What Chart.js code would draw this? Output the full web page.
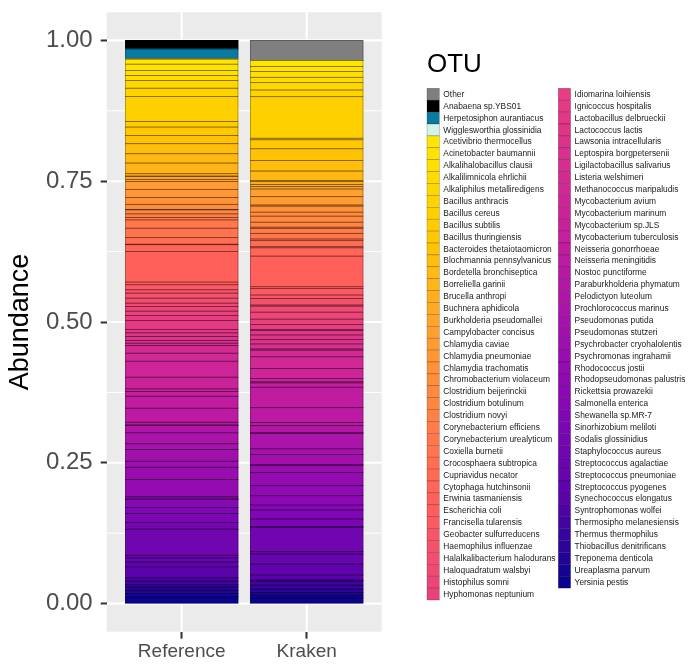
<!DOCTYPE html>
<html>
<head>
<meta charset="utf-8">
<script src="https://cdn.jsdelivr.net/npm/chart.js@4.4.1/dist/chart.umd.min.js"></script>
<style>
  html, body { margin: 0; padding: 0; background: #ffffff; }
  canvas { display: block; }
</style>
</head>
<body>
<canvas id="otu-chart" width="689" height="668"></canvas>
<script>
// samples on the x axis
var samples = ["Reference", "Kraken"];
var yTicks = [0, 0.25, 0.5, 0.75, 1];

// OTUs in legend order (first one sits on top of the stack)
var otus = [
    "Other", "Anabaena sp.YBS01", "Herpetosiphon aurantiacus", "Wigglesworthia glossinidia",
    "Acetivibrio thermocellus", "Acinetobacter baumannii", "Alkalihalobacillus clausii",
    "Alkalilimnicola ehrlichii", "Alkaliphilus metalliredigens", "Bacillus anthracis",
    "Bacillus cereus", "Bacillus subtilis", "Bacillus thuringiensis", "Bacteroides thetaiotaomicron",
    "Blochmannia pennsylvanicus", "Bordetella bronchiseptica", "Borreliella garinii",
    "Brucella anthropi", "Buchnera aphidicola", "Burkholderia pseudomallei", "Campylobacter concisus",
    "Chlamydia caviae", "Chlamydia pneumoniae", "Chlamydia trachomatis", "Chromobacterium violaceum",
    "Clostridium beijerinckii", "Clostridium botulinum", "Clostridium novyi",
    "Corynebacterium efficiens", "Corynebacterium urealyticum", "Coxiella burnetii",
    "Crocosphaera subtropica", "Cupriavidus necator", "Cytophaga hutchinsonii",
    "Erwinia tasmaniensis", "Escherichia coli", "Francisella tularensis", "Geobacter sulfurreducens",
    "Haemophilus influenzae", "Halalkalibacterium halodurans", "Haloquadratum walsbyi",
    "Histophilus somni", "Hyphomonas neptunium",
    "Idiomarina loihiensis", "Ignicoccus hospitalis", "Lactobacillus delbrueckii",
    "Lactococcus lactis", "Lawsonia intracellularis", "Leptospira borgpetersenii",
    "Ligilactobacillus salivarius", "Listeria welshimeri", "Methanococcus maripaludis",
    "Mycobacterium avium", "Mycobacterium marinum", "Mycobacterium sp.JLS",
    "Mycobacterium tuberculosis", "Neisseria gonorrhoeae", "Neisseria meningitidis",
    "Nostoc punctiforme", "Paraburkholderia phymatum", "Pelodictyon luteolum",
    "Prochlorococcus marinus", "Pseudomonas putida", "Pseudomonas stutzeri",
    "Psychrobacter cryohalolentis", "Psychromonas ingrahamii", "Rhodococcus jostii",
    "Rhodopseudomonas palustris", "Rickettsia prowazekii", "Salmonella enterica",
    "Shewanella sp.MR-7", "Sinorhizobium meliloti", "Sodalis glossinidius",
    "Staphylococcus aureus", "Streptococcus agalactiae", "Streptococcus pneumoniae",
    "Streptococcus pyogenes", "Synechococcus elongatus", "Syntrophomonas wolfei",
    "Thermosipho melanesiensis", "Thermus thermophilus", "Thiobacillus denitrificans",
    "Treponema denticola", "Ureaplasma parvum", "Yersinia pestis"
];

// abundances, same order as otus
var referenceValues = [
    0, 0.0151, 0.0165, 0.0015,
    0.0089, 0.0114, 0.0089, 0.0089, 0.0135, 0.0149, 0.0440, 0.0101, 0.0147, 0.0149,
    0.0178, 0.0165, 0.0190, 0.0041, 0.0010, 0.0048, 0.0041, 0.0137, 0.0147, 0.0119,
    0.0089, 0.0010, 0.0071, 0.0064, 0.0043, 0.0147, 0.0165, 0.0119, 0.0010, 0.0119,
    0.0544, 0.0048, 0.0089, 0.0059, 0.0089, 0.0089, 0.0060, 0.0082, 0.0078, 0.0089,
    0.0160, 0.0059, 0.0066, 0.0071, 0.0046, 0.0043, 0.0135, 0.0142, 0.0284, 0.0208,
    0.0048, 0.0082, 0.0213, 0.0249, 0.0048, 0.0010, 0.0130, 0.0195, 0.0101, 0.0208,
    0.0107, 0.0219, 0.0307, 0.0036, 0.0010, 0.0142, 0.0107, 0.0160, 0.0119, 0.0462,
    0.0048, 0.0071, 0.0089, 0.0195, 0.0059, 0.0059, 0.0043, 0.0059, 0.0059, 0.0060,
    0.0117
];
var krakenValues = [
    0.0359, 0, 0, 0,
    0.0107, 0.0089, 0.0100, 0.0096, 0.0130, 0.0119, 0.0737, 0.0028, 0.0160, 0.0208,
    0.0187, 0.0169, 0.0020, 0.0048, 0.0041, 0.0041, 0.0137, 0.0147, 0.0020, 0.0107,
    0.0071, 0.0107, 0.0089, 0.0020, 0.0089, 0.0101, 0.0030, 0.0107, 0.0020, 0.0147,
    0.0544, 0.0030, 0.0117, 0.0060, 0.0117, 0.0020, 0.0107, 0.0124, 0.0096, 0.0089,
    0.0020, 0.0076, 0.0084, 0.0076, 0.0089, 0.0020, 0.0119, 0.0206, 0.0178, 0.0060,
    0.0020, 0.0076, 0.0364, 0.0261, 0.0059, 0.0119, 0.0020, 0.0272, 0.0101, 0.0178,
    0.0020, 0.0119, 0.0236, 0.0178, 0.0165, 0.0089, 0.0160, 0.0131, 0.0020, 0.0423,
    0.0048, 0.0178, 0.0195, 0.0089, 0.0020, 0.0071, 0.0071, 0.0059, 0.0048, 0.0048,
    0.0100
];

// colours: four fixed ones, then a yellow -> navy ramp for the species
var fixedColors = ["#7f7f7f", "#000000", "#0a7aa1", "#d5f2e6"];
var rampStops = [
    [0.00, "#ffe600"], [0.10, "#ffc800"], [0.20, "#ffa02e"], [0.29, "#ff7f45"],
    [0.39, "#ff5c5e"], [0.49, "#e63c82"], [0.64, "#c41d9f"], [0.81, "#8807b6"],
    [0.91, "#5c03ab"], [1.00, "#0a0390"]
];

function hexToRgb(h) {
    return [parseInt(h.substr(1, 2), 16), parseInt(h.substr(3, 2), 16), parseInt(h.substr(5, 2), 16)];
}
function ramp(t) {
    for (var i = 1; i < rampStops.length; i++) {
        if (t <= rampStops[i][0]) {
            var a = rampStops[i - 1], b = rampStops[i];
            var f = (t - a[0]) / (b[0] - a[0]);
            var ca = hexToRgb(a[1]), cb = hexToRgb(b[1]);
            var c = ca.map(function (v, k) { return Math.round(v + (cb[k] - v) * f); });
            return "rgb(" + c.join(",") + ")";
        }
    }
    return rampStops[rampStops.length - 1][1];
}

var nSpecies = otus.length - fixedColors.length;
var otuColors = otus.map(function (name, i) {
    if (i < fixedColors.length) return fixedColors[i];
    return ramp((i - fixedColors.length) / (nSpecies - 1));
});

// chart.js stacks the first dataset at the bottom, so go in reverse
var datasets = [];
for (var i = otus.length - 1; i >= 0; i--) {
    datasets.push({
        label: otus[i],
        data: [{ x: 1, y: referenceValues[i] }, { x: 2, y: krakenValues[i] }],
        backgroundColor: otuColors[i],
        borderWidth: 0,
        inflateAmount: 0.4
    });
}

var FONT = "'Liberation Sans', Arial, Helvetica, sans-serif";
Chart.defaults.font.family = FONT;

// grey panel + white grid like ggplot
var panelPlugin = {
    id: 'panel',
    beforeDraw: function (chart) {
        var ctx = chart.ctx, a = chart.chartArea;
        var xs = chart.scales.x, ys = chart.scales.y;
        ctx.save();
        ctx.fillStyle = "#ebebeb";
        ctx.fillRect(a.left, a.top, a.right - a.left, a.bottom - a.top);
        ctx.strokeStyle = "#ffffff";
        ctx.lineWidth = 1;
        for (var i = 0; i < yTicks.length - 1; i++) {
            var ym = ys.getPixelForValue((yTicks[i] + yTicks[i + 1]) / 2);
            ctx.beginPath(); ctx.moveTo(a.left, ym); ctx.lineTo(a.right, ym); ctx.stroke();
        }
        ctx.lineWidth = 2.2;
        yTicks.forEach(function (v) {
            var y = ys.getPixelForValue(v);
            ctx.beginPath(); ctx.moveTo(a.left, y); ctx.lineTo(a.right, y); ctx.stroke();
        });
        samples.forEach(function (s, k) {
            var x = xs.getPixelForValue(k + 1);
            ctx.beginPath(); ctx.moveTo(x, a.top); ctx.lineTo(x, a.bottom); ctx.stroke();
        });
        ctx.restore();
    },
    // thin dark outline round every segment, like geom_bar(colour = "black")
    afterDatasetsDraw: function (chart) {
        var ctx = chart.ctx;
        ctx.save();
        ctx.strokeStyle = "rgba(0,0,0,0.38)";
        ctx.lineWidth = 0.7;
        chart.data.datasets.forEach(function (ds, di) {
            chart.getDatasetMeta(di).data.forEach(function (bar) {
                var p = bar.getProps(['x', 'y', 'base', 'width'], true);
                var top = Math.min(p.y, p.base), h = Math.abs(p.base - p.y);
                if (h <= 0) return;
                ctx.strokeRect(p.x - p.width / 2, top, p.width, h);
            });
        });
        ctx.restore();
    }
};

var legendPlugin = {
    id: 'otuLegend',
    afterDraw: function (chart) {
        var ctx = chart.ctx;
        ctx.save();
        ctx.fillStyle = "#000000";
        ctx.font = "26px " + FONT;
        ctx.textBaseline = "alphabetic";
        ctx.fillText("OTU", 427, 72);
        ctx.font = "8.4px " + FONT;
        ctx.textBaseline = "middle";
        otus.forEach(function (name, i) {
            var col = i < 43 ? 0 : 1;
            var row = col ? i - 43 : i;
            var x = col ? 558.3 : 427;
            var y = 88.3 + row * 11.9;
            ctx.fillStyle = otuColors[i];
            ctx.fillRect(x, y, 12.3, 11.9);
            ctx.strokeStyle = "rgba(0,0,0,0.4)";
            ctx.lineWidth = 0.5;
            ctx.strokeRect(x, y, 12.3, 11.9);
            ctx.fillStyle = "#1a1a1a";
            ctx.fillText(name, x + 16.3, y + 6.2);
        });
        ctx.restore();
    }
};

new Chart(document.getElementById("otu-chart"), {
    type: 'bar',
    data: { datasets: datasets },
    options: {
        responsive: false,
        animation: false,
        events: [],
        layout: { padding: { left: 0, top: 12.3, right: 307.3, bottom: 0 } },
        datasets: { bar: { categoryPercentage: 1, barPercentage: 0.9 } },
        scales: {
            x: {
                type: 'linear',
                stacked: true,
                offset: false,
                min: 0.4,
                max: 2.6,
                afterBuildTicks: function (axis) {
                    axis.ticks = samples.map(function (s, k) { return { value: k + 1 }; });
                },
                afterFit: function (axis) {
                    axis.height = 36.3;
                    axis.paddingLeft = 0;
                    axis.paddingRight = 0;
                },
                ticks: {
                    color: "#4d4d4d",
                    font: { size: 19 },
                    padding: 2,
                    maxRotation: 0,
                    autoSkip: false,
                    callback: function (v) { return samples[v - 1]; }
                },
                grid: { offset: false, drawOnChartArea: false, drawTicks: true, tickLength: 7, tickWidth: 2, color: "#333333" },
                border: { display: false }
            },
            y: {
                type: 'linear',
                stacked: true,
                min: -0.05,
                max: 1.05,
                afterBuildTicks: function (axis) {
                    axis.ticks = yTicks.map(function (v) { return { value: v }; });
                },
                afterFit: function (axis) {
                    axis.width = 106.7;
                    axis.paddingTop = 0;
                    axis.paddingBottom = 0;
                },
                ticks: {
                    color: "#4d4d4d",
                    font: { size: 24 },
                    padding: 8,
                    callback: function (v) { return v.toFixed(2); }
                },
                grid: { drawOnChartArea: false, drawTicks: true, tickLength: 6, tickWidth: 2, color: "#333333" },
                border: { display: false },
                title: {
                    display: true,
                    text: "Abundance",
                    color: "#000000",
                    font: { size: 27 },
                    padding: { top: 4, bottom: 0 }
                }
            }
        },
        plugins: {
            legend: { display: false },
            tooltip: { enabled: false }
        }
    },
    plugins: [panelPlugin, legendPlugin]
});
</script>
</body>
</html>
